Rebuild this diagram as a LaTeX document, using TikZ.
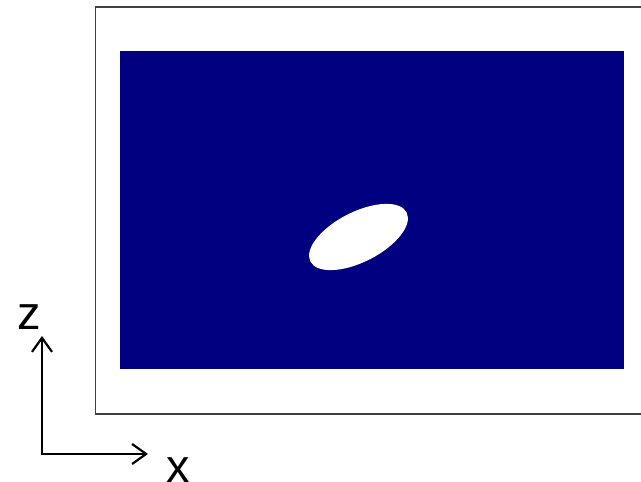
\documentclass[tikz,border=0pt]{standalone}
\usepackage{fontspec}
\setsansfont{Liberation Sans}
\usetikzlibrary{arrows.meta}
\definecolor{navy}{RGB}{0,0,128}
\tikzset{axis/.style={line width=2.2pt, {Straight Barb[length=14pt,width=20pt]}-{Straight Barb[length=14pt,width=20pt]}},
  lbl/.style={font=\sffamily\fontsize{47}{47}\selectfont, inner sep=0pt},
  frame/.style={draw=black!75, line width=1.2pt}}

\begin{document}
\begin{tikzpicture}[x=1pt, y=1pt]
  \useasboundingbox (0,0) rectangle (641,482);
  % frame and field
  \draw[frame] (641,475) -- (95.5,475) -- (95.5,68) -- (641,68);
  \fill[navy] (120,113) rectangle (624,431);
  \fill[white, rotate around={27:(358.5,245)}] (358.5,245) ellipse [x radius=54, y radius=25];
  % axes
  \coordinate (o) at (42,28);
  \coordinate (zt) at (42,146);
  \coordinate (xt) at (148,28);
  \draw[axis] (zt) -- (o) -- (xt);
  \node[lbl] (zl) at (29,165) {z};
  \node[lbl] (xl) at (178.5,12) {x};
\end{tikzpicture}
\end{document}
